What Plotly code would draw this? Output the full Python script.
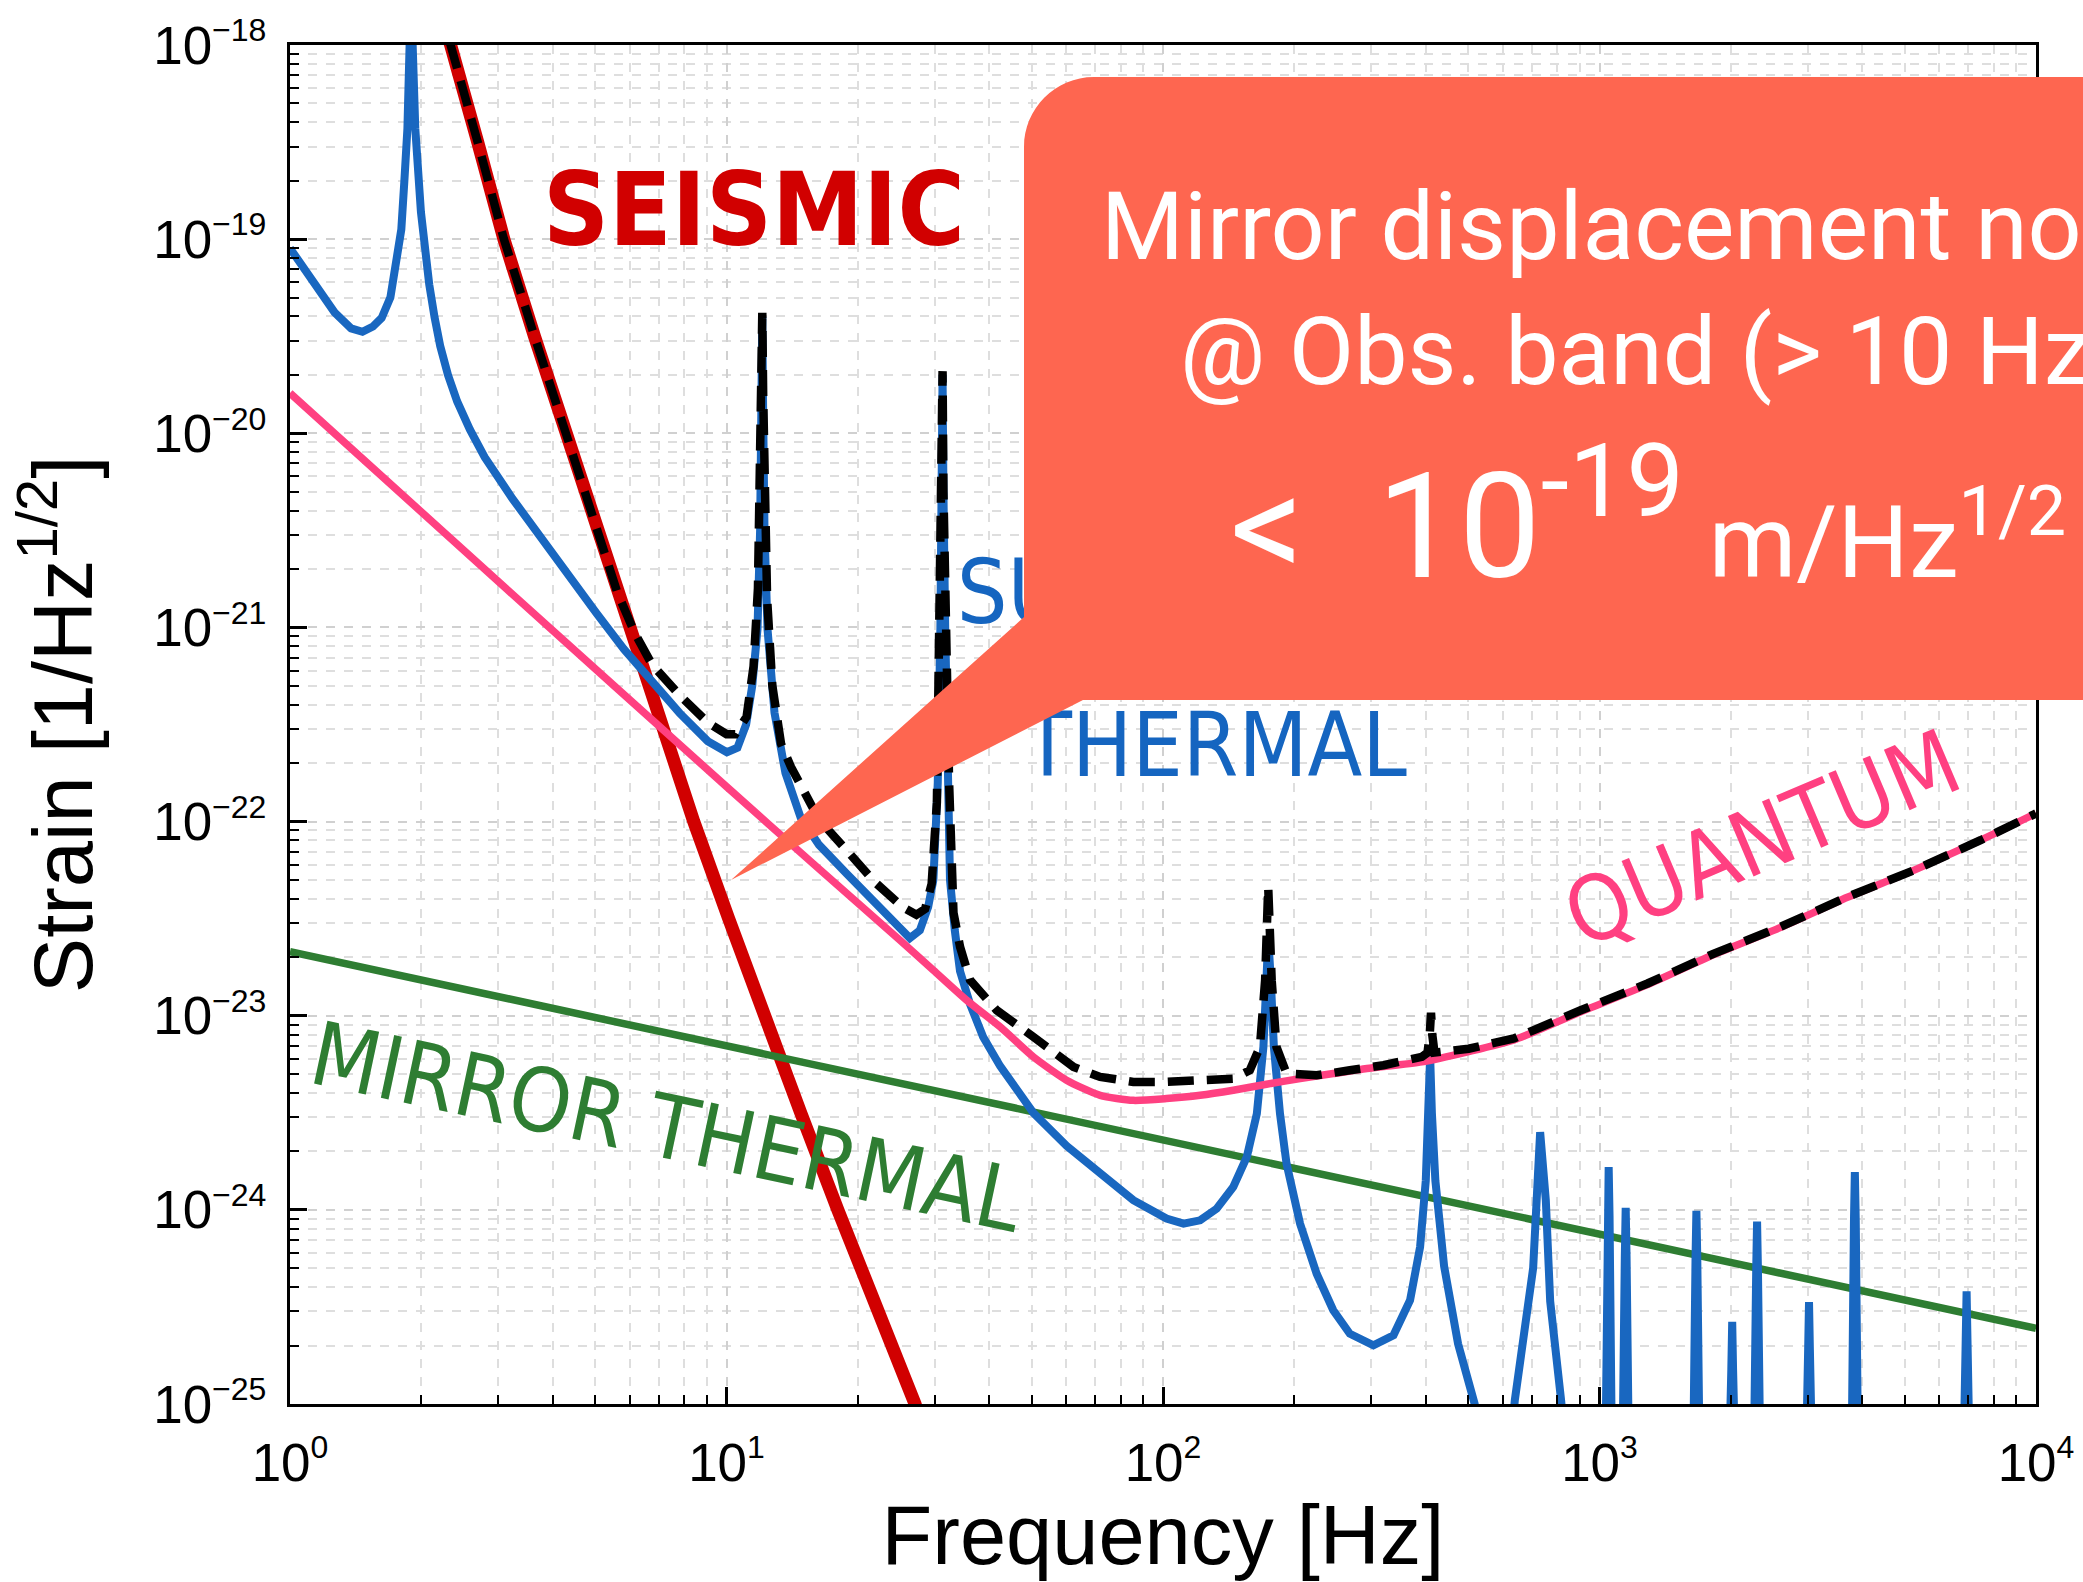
import plotly.graph_objects as go

# ---------------- data (log10 values) ----------------
# Seismic noise
seismic_logf = [0.340, 0.368, 0.430, 0.490, 0.560, 0.632, 0.703, 0.776, 0.850, 0.925,
                1.005, 1.085, 1.170, 1.255, 1.345, 1.432, 1.460]
seismic_logh = [-17.8, -18.0, -18.5, -19.0, -19.5, -20.0, -20.5, -21.0, -21.5, -22.0,
                -22.5, -23.0, -23.5, -24.0, -24.5, -25.0, -25.2]

# Suspension thermal noise
susp_logf = [0.000, 0.051, 0.102, 0.140, 0.166, 0.190, 0.210, 0.230, 0.242, 0.255, 0.262, 0.269,
             0.274, 0.277, 0.281, 0.287, 0.300, 0.309, 0.319, 0.331, 0.344, 0.362, 0.383, 0.412,
             0.446, 0.510, 0.574, 0.638,
             0.702, 0.765, 0.829, 0.893, 0.957, 1.001, 1.025, 1.045, 1.059, 1.071, 1.077, 1.080,
             1.082, 1.084, 1.087, 1.094, 1.110, 1.135, 1.170, 1.212, 1.276, 1.339, 1.390, 1.420,
             1.443, 1.462, 1.474, 1.484, 1.490, 1.493, 1.495, 1.497, 1.501, 1.507, 1.512, 1.523,
             1.535, 1.558, 1.588, 1.627, 1.703, 1.779, 1.856, 1.932, 2.008, 2.047, 2.085, 2.123,
             2.161, 2.192, 2.215, 2.230, 2.237, 2.241, 2.247, 2.254, 2.268, 2.283, 2.314, 2.352,
             2.390, 2.428, 2.482, 2.528, 2.566, 2.589, 2.602, 2.609, 2.612, 2.616, 2.624, 2.644,
             2.676, 2.714, 2.745, 2.790, 2.806, 2.848, 2.857, 2.864, 2.877, 2.887, 2.912, 2.930,
             3.013, 3.019, 3.021, 3.023, 3.029,
             3.052, 3.058, 3.060, 3.062, 3.068,
             3.214, 3.220, 3.222, 3.224, 3.230,
             3.296, 3.302, 3.304, 3.306, 3.312,
             3.353, 3.359, 3.361, 3.363, 3.369,
             3.472, 3.478, 3.480, 3.482, 3.488,
             3.577, 3.583, 3.585, 3.587, 3.593,
             3.833, 3.839, 3.841, 3.843, 3.849, 4.000]
susp_logh = [-19.047, -19.205, -19.377, -19.46, -19.477, -19.45, -19.406, -19.30, -19.147, -18.95,
             -18.70, -18.43, -18.0, -17.6, -18.0, -18.43, -18.861, -19.06, -19.234, -19.40,
             -19.549, -19.70, -19.836, -19.98,
             -20.123, -20.338, -20.539, -20.740, -20.926, -21.112, -21.285, -21.442, -21.586,
             -21.643, -21.62, -21.50, -21.30, -21.01, -20.50, -19.90, -19.40, -19.90, -20.50,
             -21.01, -21.44, -21.75, -21.98, -22.12, -22.27, -22.41, -22.53, -22.60, -22.56,
             -22.44, -22.30, -21.80, -21.00, -20.30, -19.70, -20.30, -21.00, -21.80, -22.30,
             -22.56, -22.77, -22.94, -23.11, -23.26, -23.50, -23.67, -23.81, -23.95, -24.045,
             -24.071, -24.054, -23.994, -23.882, -23.727, -23.504, -23.161, -22.817, -22.594,
             -22.817, -23.161, -23.504, -23.762, -24.071, -24.329, -24.517, -24.638, -24.698,
             -24.646, -24.466, -24.191, -23.85, -23.50, -23.21, -23.50, -23.85, -24.29, -24.69,
             -25.0, -25.4, -25.4, -24.98, -24.30, -23.78, -23.60, -23.95, -24.47, -24.98, -25.4,
             -25.4, -24.03, -23.78, -24.03, -25.4,
             -25.4, -24.24, -23.99, -24.24, -25.4,
             -25.4, -24.25, -24.005, -24.25, -25.4,
             -25.4, -24.82, -24.577, -24.82, -25.4,
             -25.4, -24.31, -24.06, -24.31, -25.4,
             -25.4, -24.72, -24.475, -24.72, -25.4,
             -25.4, -24.05, -23.805, -24.05, -25.4,
             -25.4, -24.67, -24.42, -24.67, -25.4, -25.4]

# Quantum noise
quantum_logf = [0.000, 0.500, 1.000, 1.200, 1.3975, 1.474, 1.550, 1.627, 1.703, 1.779, 1.856,
                1.932, 2.008, 2.085, 2.161, 2.237, 2.314, 2.390, 2.467, 2.593, 2.700, 2.804,
                2.957, 3.110, 3.262, 3.415, 3.568, 3.721, 3.873, 4.000]
quantum_logh = [-19.793, -20.81, -21.82, -22.22, -22.611, -22.766, -22.920, -23.058, -23.212,
                -23.332, -23.410, -23.436, -23.427, -23.410, -23.384, -23.353, -23.324, -23.298,
                -23.272, -23.238, -23.185, -23.125, -22.980, -22.840, -22.685, -22.545, -22.390,
                -22.250, -22.096, -21.958]

# Mirror thermal noise
mirror_logf = [0.0, 4.0]
mirror_logh = [-22.670, -24.610]

# Total noise
total_logf = [0.340, 0.368, 0.430, 0.490, 0.560, 0.632, 0.703, 0.750, 0.790, 0.829, 0.893, 0.957,
              1.000, 1.020, 1.046, 1.062, 1.072, 1.077, 1.080, 1.082, 1.084, 1.087, 1.093, 1.105,
              1.125, 1.148, 1.212, 1.276, 1.339, 1.403, 1.435, 1.455, 1.470, 1.482, 1.489, 1.493,
              1.495, 1.497, 1.502, 1.510, 1.520, 1.535, 1.558, 1.619, 1.703, 1.795, 1.856, 1.932,
              2.008, 2.085, 2.161, 2.199, 2.222, 2.234, 2.241, 2.249, 2.260, 2.283, 2.352, 2.428,
              2.505, 2.593, 2.606, 2.611, 2.614, 2.617, 2.622, 2.700, 2.804, 2.957, 3.110, 3.262,
              3.415, 3.568, 3.721, 3.873, 4.000]
total_logh = [-17.8, -18.0, -18.5, -19.0, -19.5, -20.0, -20.5, -20.82, -21.03, -21.19, -21.35,
              -21.49, -21.55, -21.55, -21.46, -21.20, -20.80, -20.30, -19.80, -19.38, -19.80,
              -20.30, -20.85, -21.30, -21.60, -21.72, -21.99, -22.15, -22.31, -22.44, -22.48,
              -22.45, -22.32, -21.90, -21.00, -20.30, -19.68, -20.30, -21.00, -21.80, -22.47,
              -22.645, -22.817, -22.972, -23.109, -23.264, -23.315, -23.341, -23.341, -23.332,
              -23.324, -23.281, -23.161, -22.817, -22.336, -22.817, -23.161, -23.298, -23.307,
              -23.281, -23.255, -23.212, -23.19, -23.10, -22.985, -23.10, -23.19, -23.17,
              -23.117, -22.972, -22.834, -22.680, -22.542, -22.388, -22.250, -22.096, -21.958]

# Axis ticks
x_tick_vals = [1, 10, 100, 1000, 10000]
x_tick_exps = ['0', '1', '2', '3', '4']
y_tick_exps = [-25, -24, -23, -22, -21, -20, -19, -18]
y_tick_vals = [10.0 ** e for e in y_tick_exps]
SUP = '10<sup><span style="font-size:32px">%s</span></sup>'
x_tick_text = [SUP % s for s in x_tick_exps]
y_tick_text = [SUP % ('\u2212%d' % (-e)) for e in y_tick_exps]
x_minor = [m * 10 ** k for k in range(0, 4) for m in range(2, 10)]
y_minor = [m * 10.0 ** k for k in range(-25, -18) for m in range(2, 10)]

# ---------------- figure ----------------
W, H = 2083, 1582
L, R, T, B = 290, 47, 45, 178
PW, PH = W - L - R, H - T - B


def pp(px, py):
    """pixel -> paper coordinates"""
    return (px - L) / PW, (H - B - py) / PH


def tolin(vals):
    return [10 ** v for v in vals]


NARROW = "Liberation Sans Narrow, Arial Narrow, DejaVu Sans Condensed, sans-serif"
HELV = "Liberation Sans, Arial, Helvetica, sans-serif"

fig = go.Figure()
fig.add_trace(go.Scatter(x=tolin(seismic_logf), y=tolin(seismic_logh), mode='lines',
                         line=dict(color='#d10000', width=13), hoverinfo='skip'))
fig.add_trace(go.Scatter(x=tolin(mirror_logf), y=tolin(mirror_logh), mode='lines',
                         line=dict(color='#2e7d32', width=7.5), hoverinfo='skip'))
fig.add_trace(go.Scatter(x=tolin(susp_logf), y=tolin(susp_logh), mode='lines',
                         line=dict(color='#1967c0', width=8), hoverinfo='skip'))
fig.add_trace(go.Scatter(x=tolin(quantum_logf), y=tolin(quantum_logh), mode='lines',
                         line=dict(color='#ff4081', width=7.5, shape='spline', smoothing=0.6),
                         hoverinfo='skip'))
fig.add_trace(go.Scatter(x=tolin(total_logf), y=tolin(total_logh), mode='lines',
                         line=dict(color='black', width=8.5, dash='26px,13px'), hoverinfo='skip'))

# label partly hidden under the callout
fig.add_trace(go.Scatter(x=[10 ** 2.119, 10 ** 2.119], y=[10 ** -20.864, 10 ** -21.653],
                         mode='text', text=['SUSPENSION', 'THERMAL'], textposition='middle center',
                         textfont=dict(family=NARROW, size=89, color='#1565c0'),
                         hoverinfo='skip', cliponaxis=False))

# callout shape
pts = [(2120, 77), (1094, 77)]
path = 'M %.5f %.5f L %.5f %.5f ' % (*pp(*pts[0]), *pp(*pts[1]))
c1 = pp(1055.4, 77)
c2 = pp(1024, 108.4)
e = pp(1024, 147)
path += 'C %.5f %.5f %.5f %.5f %.5f %.5f ' % (*c1, *c2, *e)
for p in [(1024, 617), (731, 880), (1083, 700), (2120, 700)]:
    path += 'L %.5f %.5f ' % pp(*p)
path += 'Z'
fig.add_shape(type='path', path=path, xref='paper', yref='paper', layer='above',
              fillcolor='#fe6650', line=dict(width=0))

ann = []
ax, ay = pp(754, 210)
ann.append(dict(text='SEISMIC', x=ax, y=ay, font=dict(family=NARROW, size=102, color='#d10000', weight='bold')))
ax, ay = pp(667, 1127)
ann.append(dict(text='MIRROR THERMAL', x=ax, y=ay, textangle=12,
                font=dict(family=NARROW, size=88, color='#2e7d32')))
ax, ay = pp(1762, 838)
ann.append(dict(text='QUANTUM', x=ax, y=ay, textangle=-23,
                font=dict(family=NARROW, size=90, color='#ff4081')))
ax, ay = pp(1652, 226)
ann.append(dict(text='Mirror displacement noise', x=ax, y=ay,
                font=dict(family='Roboto', size=95, color='white')))
ax, ay = pp(1652, 352)
ann.append(dict(text='@ Obs. band (&gt; 10 Hz)', x=ax, y=ay,
                font=dict(family='Roboto', size=95, color='white')))
ax, ay = pp(1648, 517)
ann.append(dict(text='&lt;  10<sup>-19</sup><span style="font-size:100px"> m/Hz<sup>1/2</sup></span>',
                x=ax, y=ay, font=dict(family='Roboto', size=146, color='white')))
for a in ann:
    a.update(xref='paper', yref='paper', showarrow=False, xanchor='center', yanchor='middle')

axis_common = dict(type='log', showline=True, linecolor='black', linewidth=3, mirror=True,
                   ticks='inside', ticklen=17, tickwidth=2.5, tickcolor='black',
                   tickmode='array', showgrid=True, gridcolor='#d0d0d0', gridwidth=1.5,
                   griddash='dash', zeroline=False,
                   tickfont=dict(family=HELV, size=53, color='black'))

fig.update_layout(
    width=W, height=H,
    margin=dict(l=L, r=R, t=T, b=B, autoexpand=False),
    paper_bgcolor='white', plot_bgcolor='white', showlegend=False,
    annotations=ann,
    xaxis=dict(axis_common, range=[0, 4], tickvals=x_tick_vals, ticktext=x_tick_text,
               ticklabelstandoff=10,
               minor=dict(tickmode='array', tickvals=x_minor, ticks='inside', ticklen=9,
                          tickwidth=2, tickcolor='black', showgrid=True, gridcolor='#dedede',
                          gridwidth=1.5, griddash='dash'),
               title=dict(text='Frequency [Hz]', font=dict(family=HELV, size=83, color='black'),
                          standoff=16)),
    yaxis=dict(axis_common, range=[-25, -18], tickvals=y_tick_vals, ticktext=y_tick_text,
               ticklabelstandoff=10,
               minor=dict(tickmode='array', tickvals=y_minor, ticks='inside', ticklen=9,
                          tickwidth=2, tickcolor='black', showgrid=True, gridcolor='#dedede',
                          gridwidth=1.5, griddash='dash'),
               title=dict(text='Strain [1/Hz<sup>1/2</sup>]', font=dict(family=HELV, size=83, color='black'),
                          standoff=34)),
)

fig.write_html("out.html", config={'displayModeBar': False},
               post_script="document.body.style.margin='0';document.body.style.overflow='hidden';")
